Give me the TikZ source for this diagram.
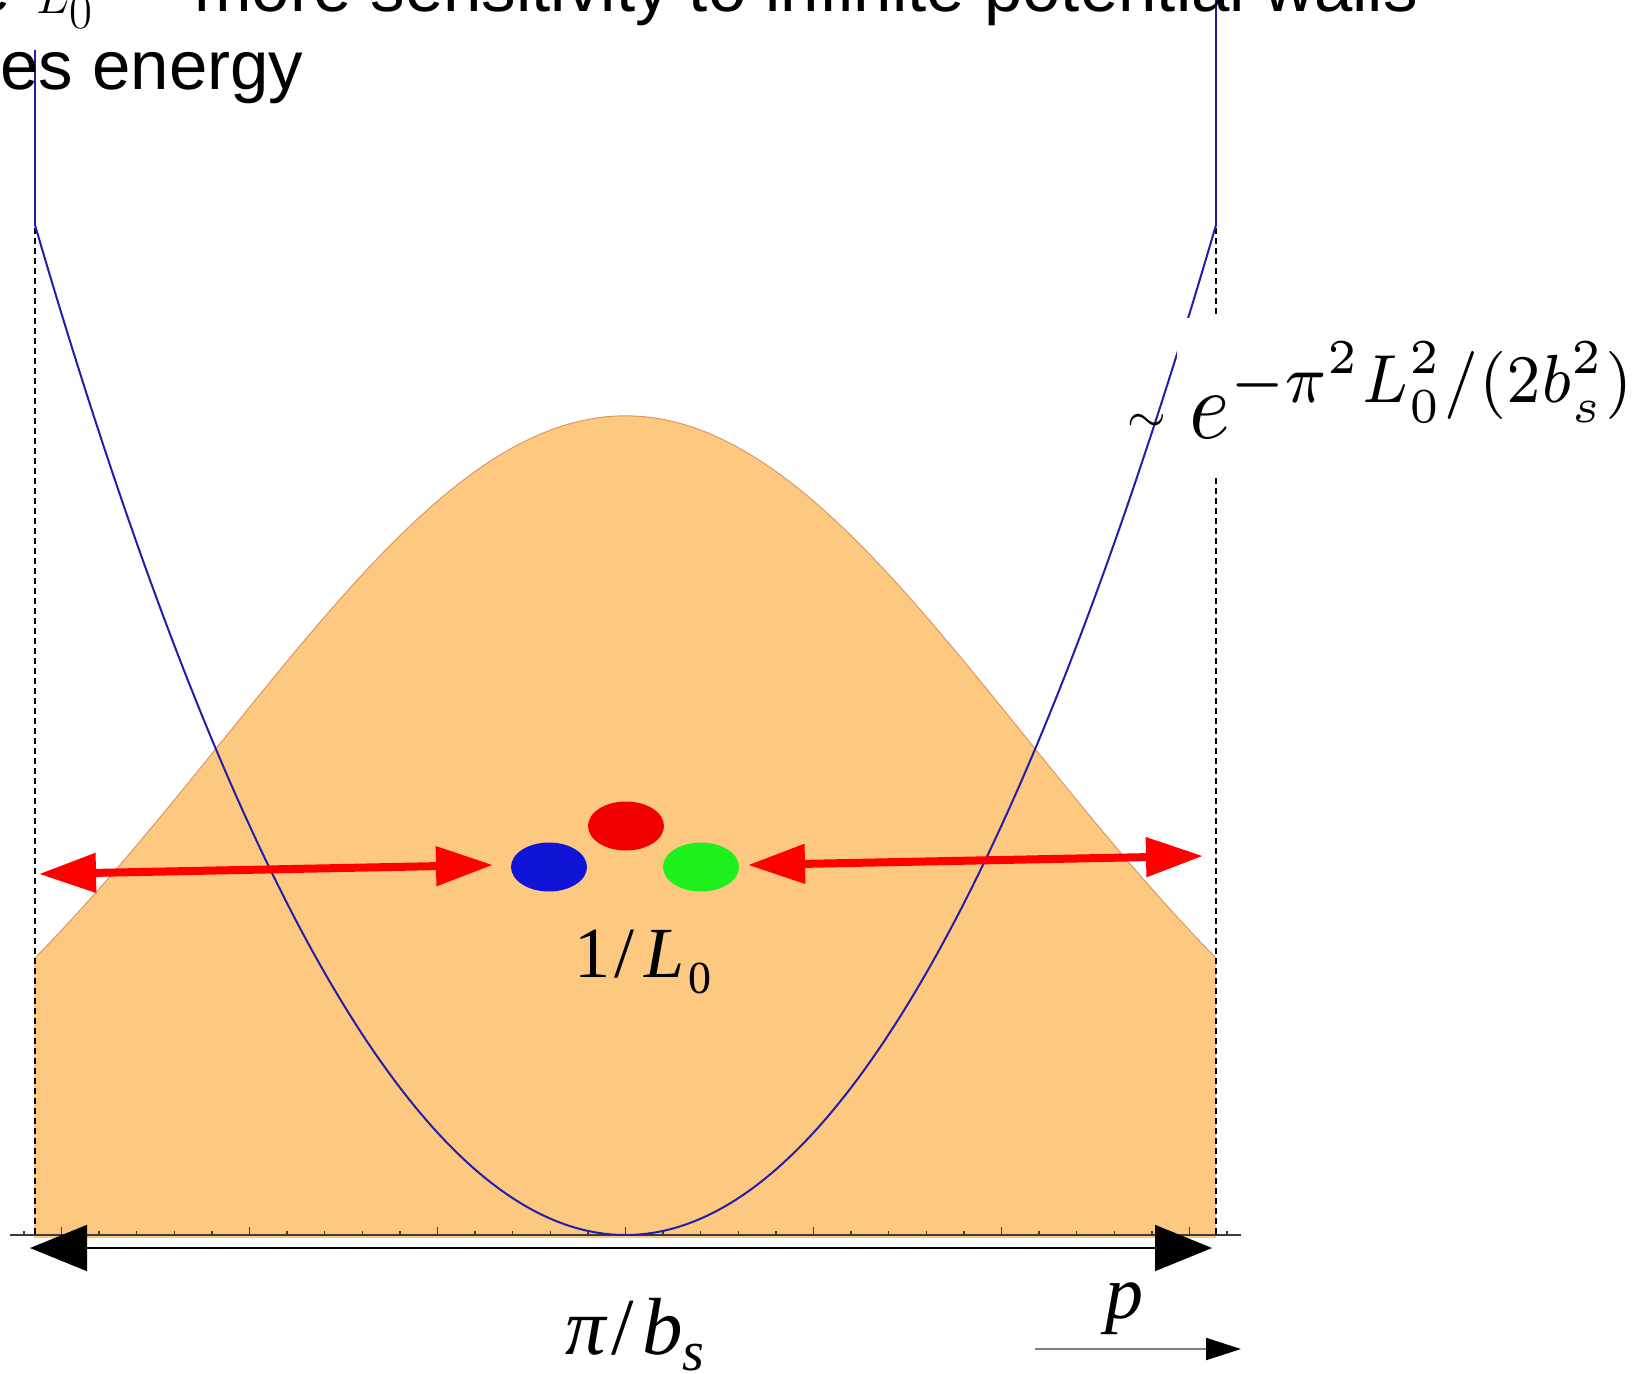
\documentclass[tikz,border=0pt]{standalone}
\usepackage[no-math]{fontspec}
\setmainfont{Liberation Sans}
\newfontfamily\tms{Liberation Serif}
\usetikzlibrary{arrows.meta,shapes.geometric}
\definecolor{fillorange}{RGB}{253,201,128}
\definecolor{edgeorange}{RGB}{222,150,100}
\definecolor{curveblue}{RGB}{35,30,170}
\definecolor{ballblue}{RGB}{15,20,215}
\definecolor{ballred}{RGB}{240,0,0}
\definecolor{ballgreen}{RGB}{30,240,30}
\definecolor{axisgray}{RGB}{60,60,60}
\definecolor{pgray}{RGB}{128,128,128}
\begin{document}
\begin{tikzpicture}[x=0.5pt,y=-0.5pt,
  wallline/.style={black, line width=1pt, dash pattern=on 3pt off 2pt},
  bluecurve/.style={curveblue, line width=1pt},
  redarrow/.style={red, line width=4pt, {Triangle[length=28.5pt,width=19pt]}-{Triangle[length=28.5pt,width=19pt]}},
  blackarrow/.style={black, line width=0.9pt, {Triangle[length=28.5pt,width=23pt]}-{Triangle[length=28.5pt,width=23pt]}},
  grayarrow/.style={pgray, line width=1pt, -{Triangle[length=17.5pt,width=11pt,color=black]}},
  ball/.style={ellipse, draw=none, minimum width=38pt, minimum height=24.5pt, inner sep=0pt},
  bigtext/.style={font=\fontsize{34.5pt}{40pt}\selectfont, inner sep=0pt, anchor=base west},
  serifl/.style={font=\tms, inner sep=0pt, anchor=base west},
  axisstyle/.style={axisgray, line width=0.7pt}]
\useasboundingbox (0,0) rectangle (1648,1374);
\clip (0,0) rectangle (1648,1374);
% orange gaussian
\fill[fillorange] (34,1238) -- plot[domain=34:1216,samples=200] (\x,{1235-819*exp(-0.5*((\x-625.5)/401)^2)}) -- (1216,1238) -- cycle;
\draw[edgeorange, line width=0.5pt] plot[domain=34:1216,samples=200] (\x,{1235-819*exp(-0.5*((\x-625.5)/401)^2)});
% walls
\coordinate (lwtop) at (34.5,228);
\coordinate (lwbot) at (34.5,1235);
\coordinate (rwtop) at (1216,228);
\coordinate (rwbot) at (1216,1235);
\draw[wallline] (lwtop) -- (lwbot);
\draw[wallline] (rwtop) -- (rwbot);
% axis
\coordinate (axl) at (10,1235);
\coordinate (axr) at (1241,1235);
\draw[axisstyle] (axl) -- (axr);
\foreach \k in {-16,...,16} \draw[axisstyle] ({625.5+37.6*\k},1235) -- ++(0,-4);
\foreach \k in {-15,-10,-5,0,5,10,15} \draw[axisstyle] ({625.5+37.6*\k},1235) -- ++(0,-8);
% blue potential
\coordinate (lv) at (35,50);
\coordinate (lvb) at (35,225);
\coordinate (rv) at (1216,0);
\coordinate (rvb) at (1216,225);
\draw[bluecurve] (lv) -- (lvb);
\draw[bluecurve] (rv) -- (rvb);
\draw[bluecurve] plot[domain=35:1216,samples=200] (\x,{1235-1010*((\x-625.5)/590.5)^2});
% balls
\node[ball, fill=ballred] (redball) at (626,826) {};
\node[ball, fill=ballblue] (blueball) at (549,867) {};
\node[ball, fill=ballgreen] (greenball) at (701,867) {};
% red arrows
\coordinate (ltip) at (39,874);
\coordinate (lin) at (493,865);
\coordinate (rin) at (748,865);
\coordinate (rtip) at (1203,856);
\draw[redarrow] (ltip) -- (lin);
\draw[redarrow] (rin) -- (rtip);
% 1/L0
\node[serifl, font=\tms\fontsize{36pt}{40pt}\selectfont] (invl) at (574,977) {1\hspace{2pt}/\hspace{5pt}\textit{L}\hspace{2pt}\raisebox{-8pt}{\fontsize{23pt}{23pt}\selectfont 0}};
% formula
\fill[white] (1177,318) rectangle (1648,478);
\node[anchor=base west, inner sep=0pt] (formula) at (1189,438) {\resizebox{224pt}{48pt}{$e^{-\pi^2 L_0^2/(2b_s^2)}$}};
\node[font=\fontsize{30pt}{32pt}\selectfont, inner sep=0pt] (tilde) at (1147,423) {$\sim$};
% top text
\node[bigtext] (line1) at (194,12) {more sensitivity to infinite potential walls};
\node[bigtext] (line2) at (0,90) {es energy};
\node[bigtext, anchor=base east] (line1pre) at (11,12) {e};
\node[font=\fontsize{50pt}{54pt}\selectfont, inner sep=0pt, anchor=base west] (lzero) at (36,14) {$L_0$};
% black double arrow
\coordinate (bl) at (30,1248);
\coordinate (br) at (1212,1248);
\draw[blackarrow] (bl) -- (br);
% bottom labels
\node[serifl, font=\tms\fontsize{40.5pt}{44pt}\selectfont] (pib) at (565,1354) {\textit{π}\hspace{2pt}/\hspace{4pt}\textit{b}\raisebox{-8pt}{\fontsize{28pt}{28pt}\selectfont\textit{s}}};
\node[font=\tms\fontsize{38pt}{40pt}\selectfont, inner sep=0pt, anchor=base] (plabel) at (1124,1318) {\textit{p}};
\coordinate (pa) at (1035,1349);
\coordinate (pb) at (1241,1349);
\draw[grayarrow] (pa) -- (pb);
\end{tikzpicture}
\end{document}
